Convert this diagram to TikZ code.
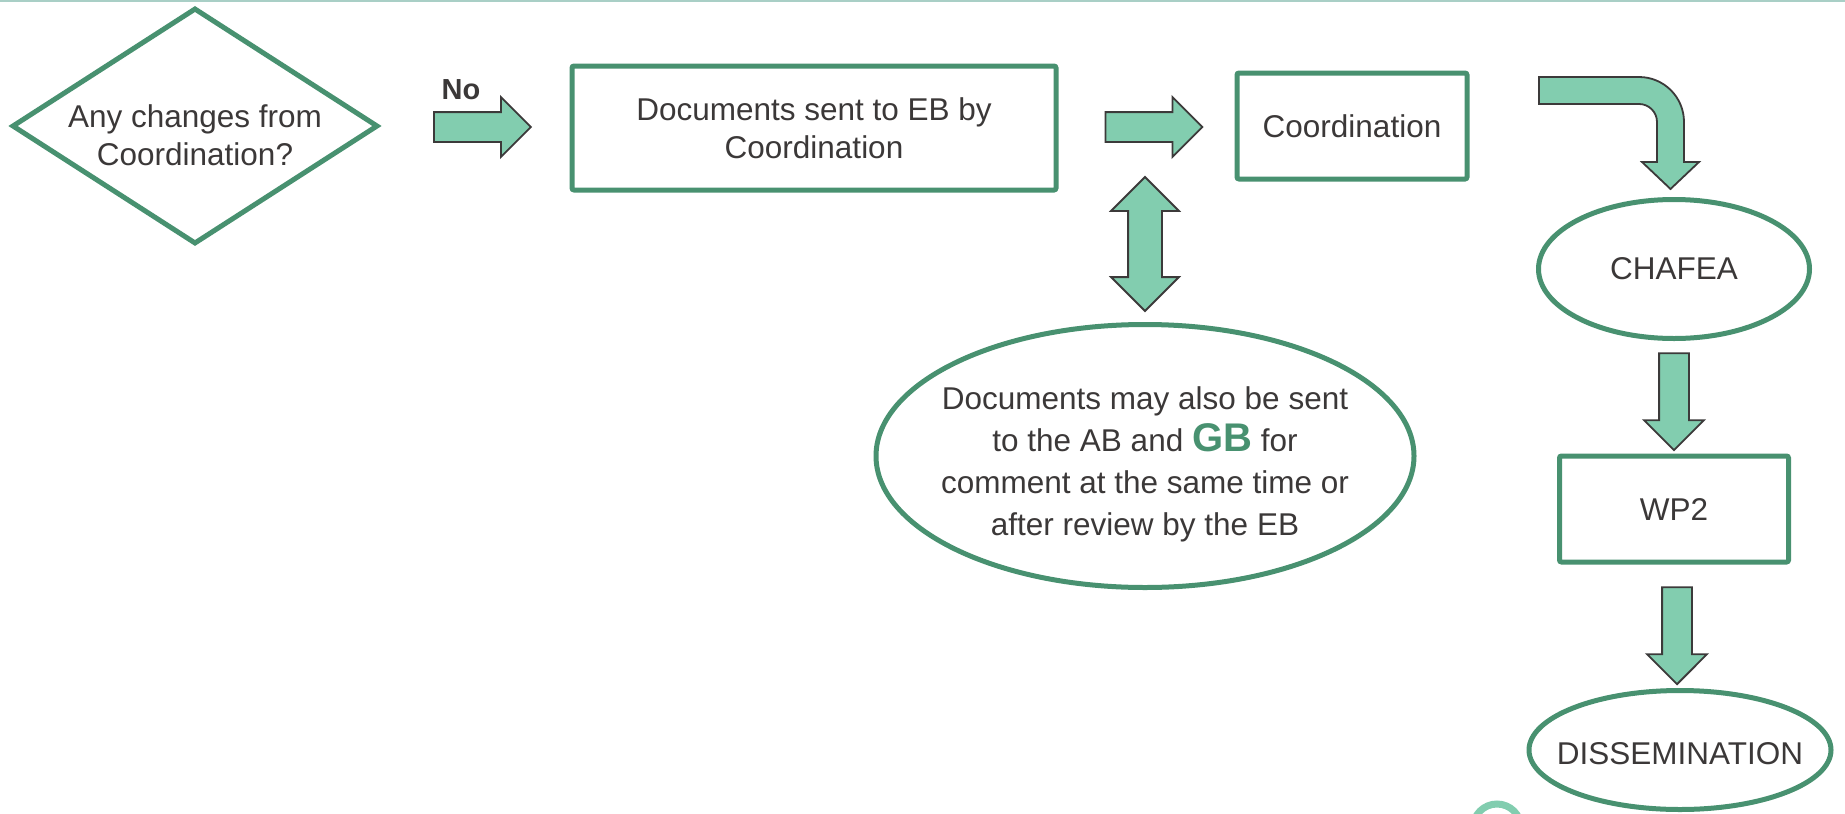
\documentclass[tikz,border=0pt]{standalone}
\usepackage{fontspec}
\setmainfont{Liberation Sans}
\usetikzlibrary{shapes.geometric,shapes.arrows,calc}
\definecolor{boxgreen}{HTML}{489170}
\definecolor{arrowfill}{HTML}{82CDAF}
\definecolor{arrowline}{HTML}{3C3A3A}
\definecolor{textgray}{HTML}{3B3838}
\definecolor{topline}{HTML}{A9CFC6}
\tikzset{
  txt/.style={text=textgray, font=\fontsize{31.5}{38}\selectfont, align=center, inner sep=0pt},
  base/.style={txt, draw=boxgreen, line width=5pt},
  box/.style={base, rectangle, rounded corners=2pt},
  decision/.style={base, diamond},
  oval/.style={base, ellipse},
  flow/.style={single arrow, draw=arrowline, fill=arrowfill, line width=1.8pt,
    inner xsep=0pt, inner ysep=14pt, single arrow head extend=15pt, minimum height=97pt},
  twoway/.style={double arrow, draw=arrowline, fill=arrowfill, line width=1.8pt,
    inner xsep=0pt, inner ysep=16pt, double arrow head extend=17pt, minimum height=134pt}
}
\begin{document}
\begin{tikzpicture}[x=1pt,y=-1pt]
\useasboundingbox (0,0) rectangle (1845,814);
\draw[topline, line width=2pt] (0,1) -- (1845,1);

% top row
\node[decision, minimum width=366pt, minimum height=236pt,
  label={[txt, yshift=-9pt]center:{Any changes from\\Coordination?}}] (dec) at (195,126) {};
\node[box, minimum width=484pt, minimum height=124pt] (docs) at (814,128) {Documents sent to EB by\\Coordination};
\node[box, minimum width=230pt, minimum height=106pt] (coord) at (1352,126) {Coordination};

\node[flow] (a1) at ($(dec.east)!0.5!(docs.west)$) {};
\node[txt, font=\fontsize{29}{34}\bfseries] (no) at (461,90) {No};
\node[flow] (a2) at ($(docs.east)!0.5!(coord.west)$) {};

% note under the boxes
\node[oval, minimum width=538pt, minimum height=263pt,
  label={[txt, font=\fontsize{31.5}{42}\selectfont, yshift=-8pt]center:{Documents may also be sent\\
  to the AB and {\fontsize{40}{42}\bfseries\color{boxgreen}GB} for\\
  comment at the same time or\\
  after review by the EB}}] (note) at (1145,456) {};
\node[twoway, rotate=90] (a5) at ($(note.north)+(0,-78)$) {};

% right column
\coordinate (bend) at (1639,122);
\draw[draw=arrowline, fill=arrowfill, line width=1.8pt, line join=miter]
  (bend) ++(-100,-45) -- ++(100,0) arc(-90:0:45) -- ++(0,40) -- ++(15,0)
  -- ++(-28.5,27) -- ++(-28.5,-27) -- ++(15,0) -- ++(0,-40) arc(0:-90:18)
  -- ++(-100,0) -- cycle;
\node[oval, minimum width=271pt, minimum height=139pt] (chafea) at (1674,269) {CHAFEA};
\node[box, minimum width=229pt, minimum height=106pt] (wp2) at (1674,509) {WP2};
\node[oval, minimum width=302pt, minimum height=119pt,
  label={[txt, yshift=-4pt]center:DISSEMINATION}] (diss) at (1680,750) {};
\node[flow, rotate=-90] (a3) at ($(chafea.south)!0.5!(wp2.north)+(0,-3)$) {};
\node[flow, rotate=-90] (a4) at ($(wp2.south)!0.5!(diss.north)+(0,2)$) {};

\begin{scope}
\clip (0,0) rectangle (1845,814);
\draw[arrowfill, line width=7pt] (1497,828) circle (24pt);
\end{scope}
\end{tikzpicture}
\end{document}
